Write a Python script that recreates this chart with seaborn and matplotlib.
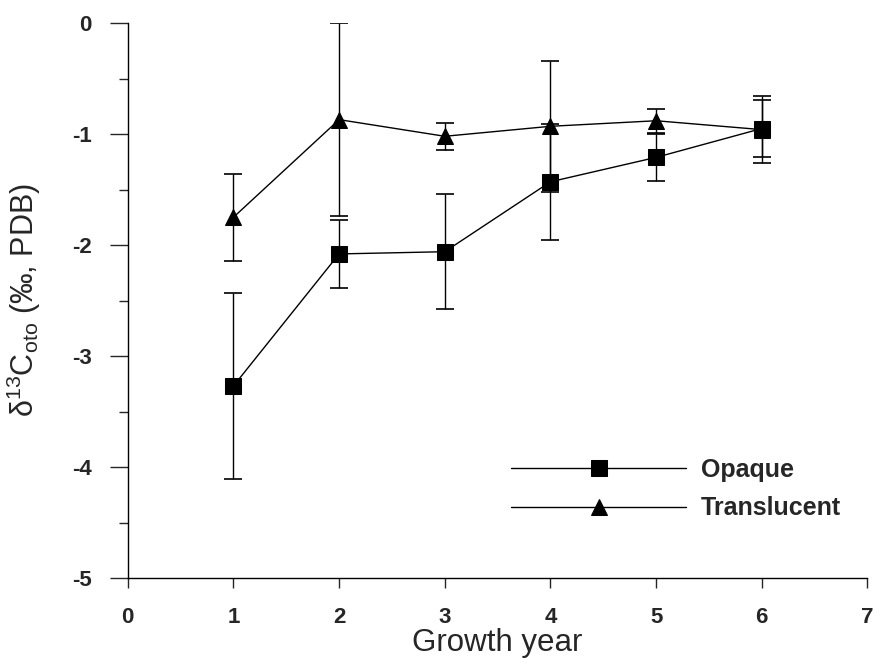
import matplotlib
matplotlib.use("Agg")
import matplotlib.pyplot as plt
import seaborn as sns
import pandas as pd
from matplotlib.ticker import MultipleLocator

# values
years = [1, 2, 3, 4, 5, 6]
opaque_mean = [-3.27, -2.08, -2.06, -1.43, -1.21, -0.95]
opaque_err = [0.84, 0.31, 0.52, 0.52, 0.21, 0.26]
transl_mean = [-1.75, -0.87, -1.02, -0.93, -0.88, -0.96]
transl_err = [0.39, 0.87, 0.12, 0.59, 0.11, 0.30]

df = pd.DataFrame({
    "year": years * 2,
    "d13C": opaque_mean + transl_mean,
    "group": ["Opaque"] * 6 + ["Translucent"] * 6,
})

sns.set_style("ticks")
plt.rcParams["font.family"] = ["Liberation Sans", "DejaVu Sans"]
plt.rcParams["mathtext.default"] = "regular"
plt.rcParams["axes.unicode_minus"] = False

fig = plt.figure(figsize=(8.78, 6.71), dpi=100)
ax = fig.add_axes([0.1455, 0.1386, 0.8425, 0.827])

# error bars first so markers sit on top
ax.errorbar(years, opaque_mean, yerr=opaque_err, fmt="none", ecolor="black",
            elinewidth=1.0, capsize=6.5, capthick=1.2, zorder=2)
ax.errorbar(years, transl_mean, yerr=transl_err, fmt="none", ecolor="black",
            elinewidth=1.0, capsize=6.5, capthick=1.2, zorder=2)

sns.lineplot(data=df, x="year", y="d13C", hue="group", style="group",
             markers={"Opaque": "s", "Translucent": "^"}, dashes=False,
             palette={"Opaque": "black", "Translucent": "black"},
             markersize=12, linewidth=1.0, markeredgecolor="black",
             ax=ax, zorder=3)

ax.set_xlim(0, 7)
ax.set_ylim(-5, 0)
ax.xaxis.set_major_locator(MultipleLocator(1))
ax.yaxis.set_major_locator(MultipleLocator(1))
ax.yaxis.set_minor_locator(MultipleLocator(0.5))
ax.tick_params(axis="both", which="major", width=1.0, labelsize=16)
ax.tick_params(axis="x", which="major", length=7, pad=14)
ax.tick_params(axis="y", which="major", length=13, pad=13)
ax.tick_params(axis="y", which="minor", length=6.5, width=1.0)
for lab in ax.get_xticklabels() + ax.get_yticklabels():
    lab.set_fontweight("bold")

sns.despine(ax=ax)
for s in ["left", "bottom"]:
    ax.spines[s].set_linewidth(1.0)
    ax.spines[s].set_color("black")

ax.set_xlabel("Growth year", fontsize=22.5, labelpad=0)
ax.set_ylabel("δ$^{13}$C$_{oto}$ (‰, PDB)", fontsize=22)
ax.yaxis.set_label_coords(-0.1145, 0.5)

leg = ax.legend(loc="center left", bbox_to_anchor=(0.488, 0.16), frameon=False,
                handlelength=7.0, handletextpad=0.6, labelspacing=0.58,
                prop={"size": 18, "weight": "bold"})
for h in leg.legend_handles:
    h.set_markersize(12)

fig.savefig("out.png", dpi=100)
